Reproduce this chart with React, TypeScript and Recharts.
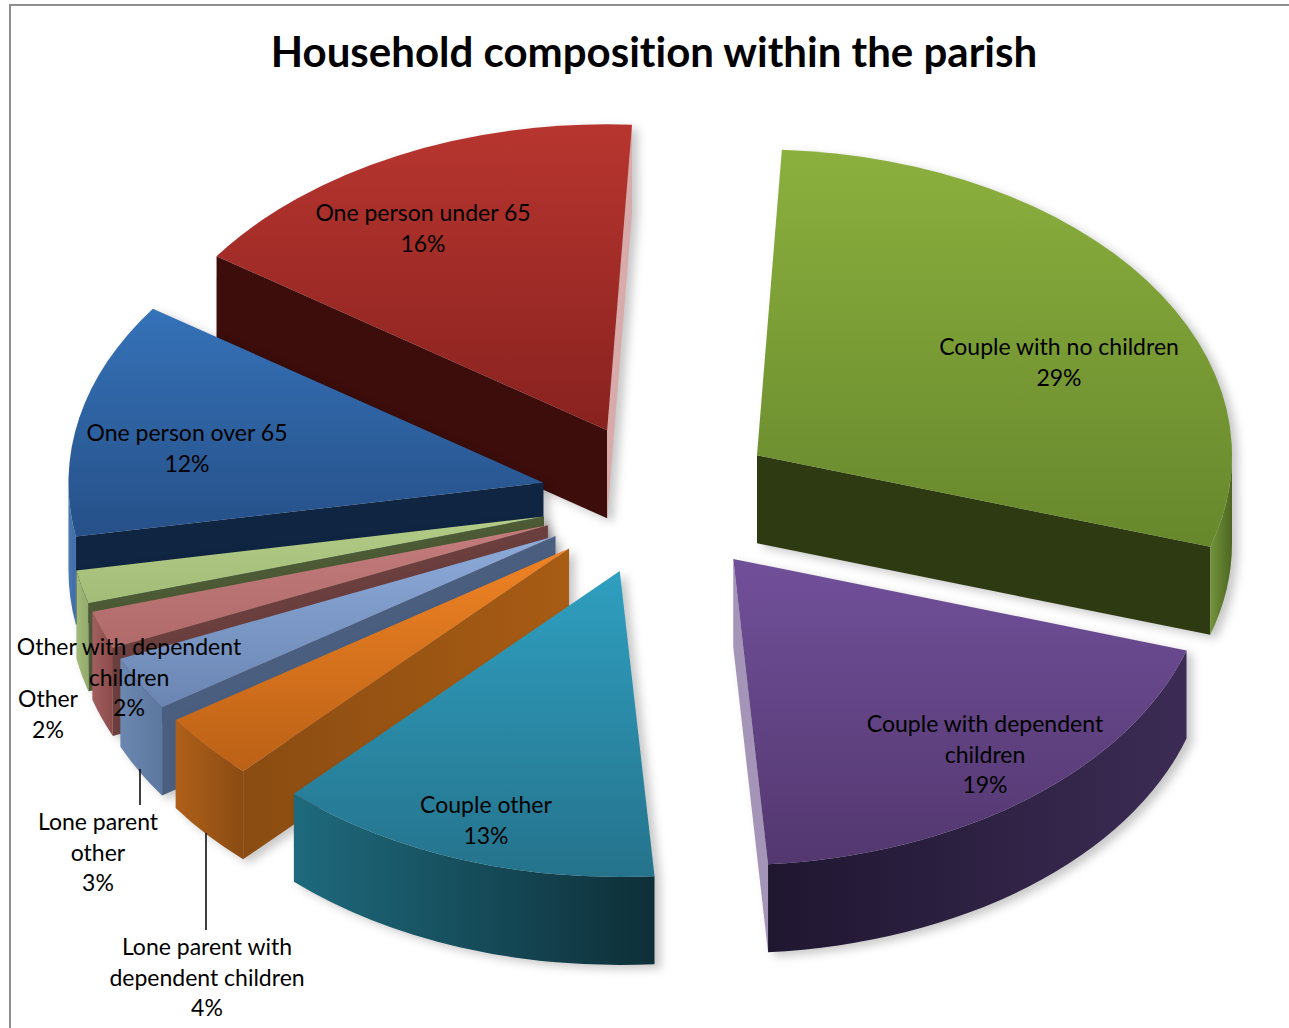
import React from "react";
import { PieChart, Pie } from "recharts";

const categories = [
  "Couple with no children",
  "Couple with dependent children",
  "Couple other",
  "Lone parent with dependent children",
  "Lone parent other",
  "Other with dependent children",
  "Other",
  "One person over 65",
  "One person under 65",
];
const shares = [29, 19, 13.2, 3.5, 2.9, 2, 1.75, 12.45, 16.2];
const shareLabels = ["29%", "19%", "13%", "4%", "3%", "2%", "2%", "12%", "16%"];

const labelLines = [
  ["Couple with no children"],
  ["Couple with dependent", "children"],
  ["Couple other"],
  ["Lone parent with", "dependent children"],
  ["Lone parent", "other"],
  ["Other with dependent", "children"],
  ["Other"],
  ["One person over 65"],
  ["One person under 65"],
];
const labelCentreX = [1059, 985, 486, 207, 98, 129, 48, 187, 423];
const labelTopY = [346, 723, 804, 946, 821, 646, 698, 432, 212];
const leaders: (number[] | null)[] = [null, null, null, [206, 833, 930], [140, 769, 805], null, null, null, null];

const topLight = ["#8cb03e", "#71509a", "#2f9fc0", "#f08324", "#8dabd9", "#c47c7c", "#b2cb86", "#3572b8", "#b8352f"];
const topDark = ["#67872c", "#53376f", "#25738c", "#bb6116", "#6a85b2", "#b06a6a", "#a3bd78", "#265088", "#88221f"];
const outerLeft = ["#72933a", "#1f1630", "#1e6a7d", "#b0601a", "#6b87b0", "#a35f5f", "#a2ba7a", "#4a79b4", "#88221f"];
const outerRight = ["#4d6622", "#3c2c55", "#0e2f38", "#8a4b12", "#5c789f", "#8b4a4a", "#93aa6c", "#3f6ca6", "#88221f"];
const radialNear = ["#2d3a12", "#a495b8", "#1e6a7d", "#8a4c12", "#4a5f80", "#6c3f3f", "#4c5b35", "#102542", "#3c0d0b"];
const radialFar = ["#2d3a12", "#a495b8", "#1e6a7d", "#a85c14", "#4a5f80", "#6c3f3f", "#4c5b35", "#102542", "#3c0d0b"];
const endWall = ["#2d3a12", "#a495b8", "#0e2f38", "#8a4b12", "#4a5f80", "#6c3f3f", "#4c5b35", "#102542", "#d8aaaa"];

const CX = 659.5;
const CY = 499;
const RX = 475;
const TILT = 306 / 475;
const DEPTH = 88;
const EXPLODE = 0.25;
const LINE = 30.5;
const FONT = "Lato, sans-serif";

const rows = categories.map((name, i) => ({ name, value: shares[i], order: i })).reverse();

const rad = (d: number) => (d * Math.PI) / 180;

function Slice(props: any) {
  const i: number = props.order ?? props.payload?.order ?? 0;
  let t0 = 90 - props.endAngle;
  let t1 = 90 - props.startAngle;
  while (t0 < 0) {
    t0 += 360;
    t1 += 360;
  }
  const a = props.outerRadius;
  const b = a * TILT;
  const mid = (t0 + t1) / 2;
  const ax = props.cx + EXPLODE * a * Math.sin(rad(mid));
  const ay = props.cy - EXPLODE * b * Math.cos(rad(mid));
  const px = (t: number) => ax + a * Math.sin(rad(t));
  const py = (t: number) => ay - b * Math.cos(rad(t));
  const large = t1 - t0 > 180 ? 1 : 0;
  const top = `M${ax},${ay}L${px(t0)},${py(t0)}A${a},${b} 0 ${large} 1 ${px(t1)},${py(t1)}Z`;
  const wall = (t: number) =>
    `M${ax},${ay}L${px(t)},${py(t)}L${px(t)},${py(t) + DEPTH}L${ax},${ay + DEPTH}Z`;
  const showStart = Math.sin(rad(t0)) < 0;
  const showEnd = Math.sin(rad(t1)) > 0;
  const s0 = Math.max(t0, 90);
  const s1 = Math.min(t1, 270);
  const outer =
    s1 > s0
      ? `M${px(s0)},${py(s0)}A${a},${b} 0 0 1 ${px(s1)},${py(s1)}L${px(s1)},${py(s1) + DEPTH}A${a},${b} 0 0 0 ${px(s0)},${py(s0) + DEPTH}Z`
      : null;
  return (
    <g style={{ filter: "drop-shadow(6px 4px 5px rgba(0,0,0,0.22))" }}>
      <defs>
        <linearGradient id={`top${i}`} x1="0" y1="0" x2="0" y2="1">
          <stop offset="0" stopColor={topLight[i]} />
          <stop offset="1" stopColor={topDark[i]} />
        </linearGradient>
        <linearGradient id={`side${i}`} x1="0" y1="0" x2="1" y2="0">
          <stop offset="0" stopColor={outerLeft[i]} />
          <stop offset="1" stopColor={outerRight[i]} />
        </linearGradient>
        <linearGradient id={`radial${i}`} x1="0" y1="0" x2="1" y2="0">
          <stop offset="0" stopColor={radialNear[i]} />
          <stop offset="1" stopColor={radialFar[i]} />
        </linearGradient>
      </defs>
      {showStart && <path d={wall(t0)} fill={`url(#radial${i})`} />}
      {showEnd && <path d={wall(t1)} fill={endWall[i]} />}
      {outer && <path d={outer} fill={`url(#side${i})`} />}
      <path d={top} fill={`url(#top${i})`} />
    </g>
  );
}

function SliceLabel(props: any) {
  const i: number = props.order ?? props.payload?.order ?? 0;
  const lines = [...labelLines[i], shareLabels[i]];
  const leader = leaders[i];
  return (
    <g>
      {leader && <line x1={leader[0]} x2={leader[0]} y1={leader[1]} y2={leader[2]} stroke="#000" strokeWidth={1.5} />}
      {lines.map((l, k) => (
        <text
          key={k}
          x={labelCentreX[i]}
          y={labelTopY[i] + k * LINE}
          textAnchor="middle"
          dominantBaseline="central"
          fontFamily={FONT}
          fontSize={23}
          fill="#000"
          style={{ fontVariantLigatures: "none" }}
        >
          {l}
        </text>
      ))}
    </g>
  );
}

export default function App() {
  return (
    <div style={{ position: "absolute", left: 0, top: 0, width: 1289, height: 1028, overflow: "hidden", background: "#fff" }}>
      <div style={{ position: "absolute", left: 9, top: 4, width: 1500, height: 1300, border: "2px solid #8e8e8e" }} />
      <div style={{ position: "absolute", left: 0, top: 0 }}>
        <PieChart width={1289} height={1028} margin={{ top: 0, right: 0, bottom: 0, left: 0 }} accessibilityLayer={false}>
          <text
            x={654}
            y={51}
            textAnchor="middle"
            dominantBaseline="central"
            fontFamily={FONT}
            fontWeight={700}
            fontSize={42}
            fill="#000"
            style={{ fontVariantLigatures: "none" }}
          >
            Household composition within the parish
          </text>
          <Pie
            data={rows}
            dataKey="value"
            nameKey="name"
            cx={CX}
            cy={CY}
            innerRadius={0}
            outerRadius={RX}
            startAngle={87}
            endAngle={447}
            stroke="none"
            isAnimationActive={false}
            shape={Slice}
            label={SliceLabel}
            labelLine={false}
          />
        </PieChart>
      </div>
    </div>
  );
}
